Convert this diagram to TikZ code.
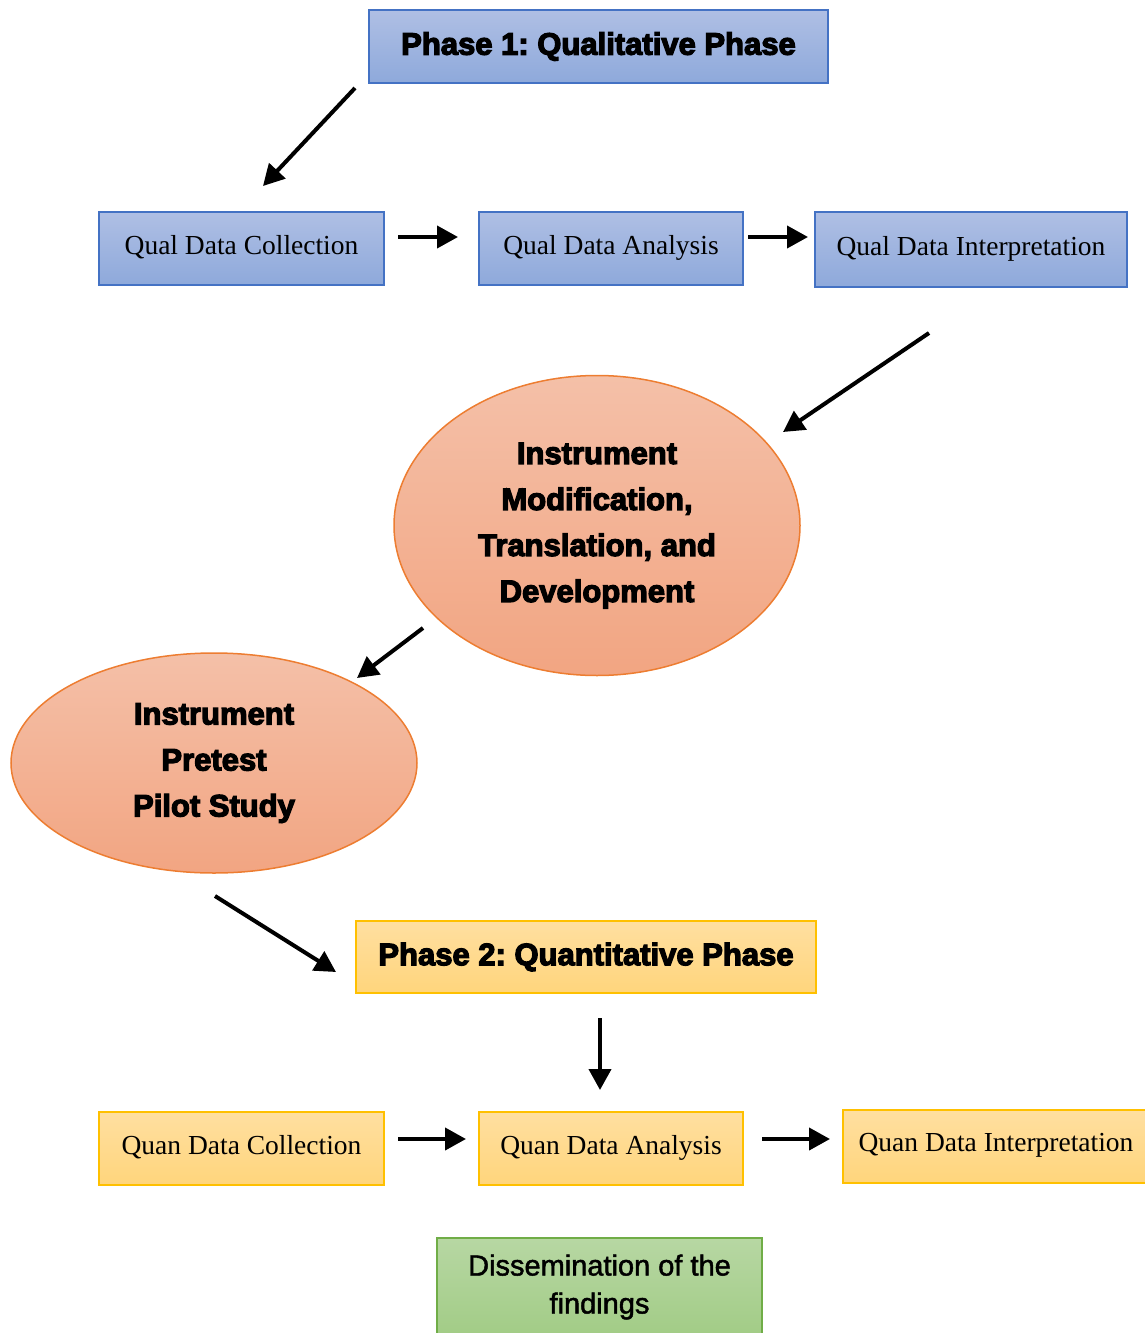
\documentclass[tikz,border=0pt]{standalone}
\usepackage{fontspec}
\setmainfont{Liberation Serif}
\newfontfamily\heavy[FakeBold=4]{Liberation Sans Bold}
\newfontfamily\medsans[FakeBold=1.6]{Liberation Sans}
\usetikzlibrary{shapes.geometric,arrows.meta}
\frenchspacing
\definecolor{blueB}{HTML}{4472C4}
\definecolor{blueT}{HTML}{AFBFE4}
\definecolor{blueL}{HTML}{8EA9DB}
\definecolor{orB}{HTML}{ED7D31}
\definecolor{orT}{HTML}{F4C0A8}
\definecolor{orL}{HTML}{F2A582}
\definecolor{ylB}{HTML}{FFC000}
\definecolor{ylT}{HTML}{FFDFA0}
\definecolor{ylL}{HTML}{FFD57C}
\definecolor{gnB}{HTML}{70AD47}
\definecolor{gnT}{HTML}{B7D7A3}
\definecolor{gnL}{HTML}{A2CC86}
\tikzset{
  bluebox/.style={draw=blueB, line width=1.8pt, top color=blueT, bottom color=blueL, inner sep=0pt},
  yelbox/.style={draw=ylB, line width=1.8pt, top color=ylT, bottom color=ylL, inner sep=0pt},
  grnbox/.style={draw=gnB, line width=1.8pt, top color=gnT, bottom color=gnL, inner sep=0pt},
  oval/.style={ellipse, draw=orB, line width=1.5pt, top color=orT, bottom color=orL, inner sep=0pt, align=center,
    font=\heavy\fontsize{31}{46}\selectfont},
  serifT/.style={font=\fontsize{27.5}{32}\selectfont},
  headT/.style={font=\heavy\fontsize{31}{34}\selectfont},
  arr/.style={line width=4pt, -{Triangle[length=21pt,width=22pt]}}
}
\begin{document}
\begin{tikzpicture}[x=1pt,y=-1pt]
\useasboundingbox (0,0) rectangle (1145,1333);
% nodes
\node[bluebox, headT, minimum width=459pt, minimum height=73pt] (p1) at (598.5,46.5) {Phase 1: Qualitative Phase};
\node[bluebox, serifT, minimum width=285pt, minimum height=73pt] (qdc) at (241.5,248.5) {\raisebox{8pt}{Qual Data Collection}};
\node[bluebox, serifT, minimum width=264pt, minimum height=73pt] (qda) at (611,248.5) {\raisebox{8pt}{Qual Data Analysis}};
\node[bluebox, serifT, minimum width=312pt, minimum height=75pt] (qdi) at (971,249.5) {\raisebox{8pt}{Qual Data Interpretation}};
\node[oval, minimum width=406pt, minimum height=300pt] (e1) at (597,525.5) {Instrument\\Modification,\\Translation, and\\Development};
\node[oval, minimum width=406pt, minimum height=220pt] (e2) at (214,763) {Instrument\\Pretest\\Pilot Study};
\node[yelbox, headT, minimum width=460pt, minimum height=72pt] (p2) at (586,957) {Phase 2: Quantitative Phase};
\node[yelbox, serifT, minimum width=285pt, minimum height=73pt] (ndc) at (241.5,1148.5) {\raisebox{8pt}{Quan Data Collection}};
\node[yelbox, serifT, minimum width=264pt, minimum height=73pt] (nda) at (611,1148.5) {\raisebox{8pt}{Quan Data Analysis}};
\node[yelbox, serifT, minimum width=306pt, minimum height=73pt] (ndi) at (996,1146.5) {\raisebox{8pt}{Quan Data Interpretation}};
\node[grnbox, align=center, font=\medsans\fontsize{29}{38}\selectfont, minimum width=325pt, minimum height=98pt] (dis) at (599.5,1287) {Dissemination of the\\findings};
% free arrow end points
\coordinate (a1s) at (355,88);  \coordinate (a1e) at (263,186);
\coordinate (b1s) at (398,237); \coordinate (b1e) at (458,237);
\coordinate (b2s) at (748,237); \coordinate (b2e) at (808,237);
\coordinate (a2s) at (929,333); \coordinate (a2e) at (783,432);
\coordinate (a3s) at (423,628); \coordinate (a3e) at (357,678);
\coordinate (a4s) at (215,896); \coordinate (a4e) at (336,972);
\coordinate (a5s) at (600,1018); \coordinate (a5e) at (600,1090);
\coordinate (b3s) at (398,1139); \coordinate (b3e) at (466,1139);
\coordinate (b4s) at (762,1139); \coordinate (b4e) at (830,1139);
% connectors
\draw[arr] (a1s) -- (a1e);
\draw[arr] (b1s) -- (b1e);
\draw[arr] (b2s) -- (b2e);
\draw[arr] (a2s) -- (a2e);
\draw[arr] (a3s) -- (a3e);
\draw[arr] (a4s) -- (a4e);
\draw[arr] (a5s) -- (a5e);
\draw[arr] (b3s) -- (b3e);
\draw[arr] (b4s) -- (b4e);
\end{tikzpicture}
\end{document}
